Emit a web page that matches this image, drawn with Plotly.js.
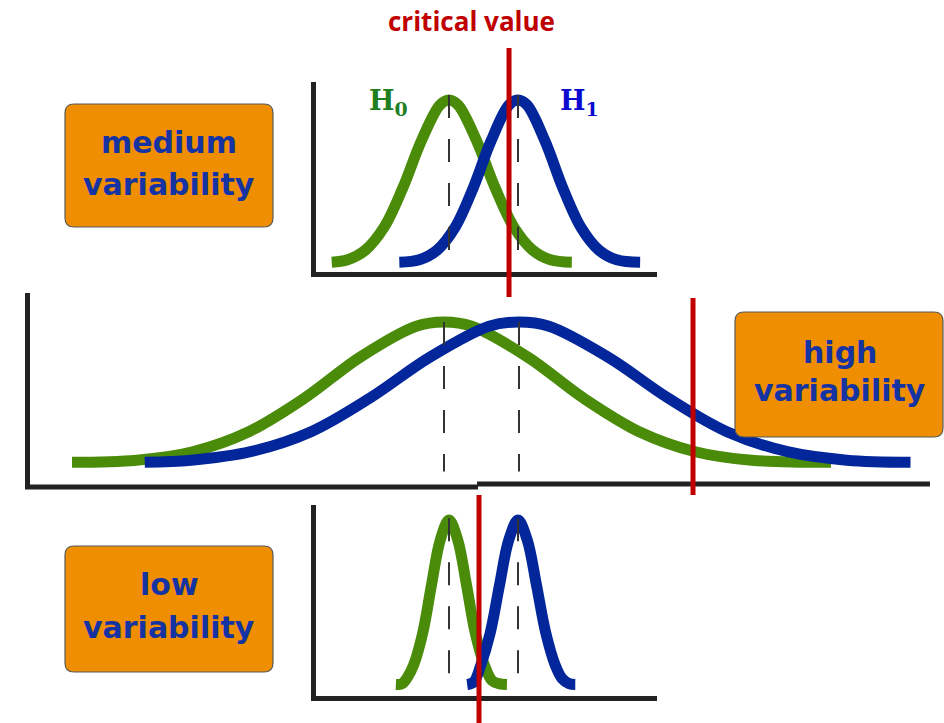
<!DOCTYPE html>
<html>
<head>
<meta charset="utf-8">
<script src="https://cdn.plot.ly/plotly-3.0.1.min.js"></script>
<style>
html,body{margin:0;padding:0;background:#ffffff;}
#chart{width:944px;height:723px;}
</style>
</head>
<body>
<div id="chart"></div>
<script>
// ---------- data (x in units of the H0-H1 mean difference, y = relative density) ----------
const panelNames = ['medium', 'high', 'low'];
const boxSubLabel = 'variability';
const hypothesisLabels = ['H<sub>0</sub>', 'H<sub>1</sub>'];
const criticalLabel = 'critical value';
const meansH = [0, 1];
const criticalValues = [0.87, 3.32, 0.435];

const medH0x = [-1.70, -1.47, -1.21, -0.94, -0.67, -0.40, -0.13, 0, 0.13, 0.40, 0.67, 0.94, 1.21, 1.47, 1.78];
const medH0y = [0.005, 0.02, 0.08, 0.22, 0.46, 0.75, 0.97, 1.00, 0.97, 0.75, 0.46, 0.22, 0.08, 0.02, 0.005];
const medH1x = [-0.72, -0.43, -0.17, 0.09, 0.35, 0.61, 0.87, 1.00, 1.13, 1.39, 1.65, 1.91, 2.17, 2.43, 2.77];
const medH1y = [0.005, 0.02, 0.08, 0.22, 0.46, 0.75, 0.97, 1.00, 0.97, 0.75, 0.46, 0.22, 0.08, 0.02, 0.005];

const highH0x = [-4.96, -4.10, -3.35, -2.61, -1.86, -1.12, -0.37, 0, 0.37, 1.12, 1.86, 2.61, 3.35, 4.10, 5.16];
const highH0y = [0.005, 0.02, 0.08, 0.22, 0.46, 0.75, 0.97, 1.00, 0.97, 0.75, 0.46, 0.22, 0.08, 0.02, 0.005];
const highH1x = [-3.99, -3.37, -2.58, -1.78, -0.99, -0.19, 0.60, 1.00, 1.40, 2.19, 2.99, 3.78, 4.58, 5.37, 6.22];
const highH1y = [0.005, 0.02, 0.08, 0.22, 0.46, 0.75, 0.97, 1.00, 0.97, 0.75, 0.46, 0.22, 0.08, 0.02, 0.005];

const lowH0x = [-0.77, -0.68, -0.60, -0.51, -0.38, -0.254, -0.127, 0, 0.127, 0.254, 0.38, 0.51, 0.62, 0.72, 0.84];
const lowH0y = [0.015, 0.02, 0.06, 0.135, 0.325, 0.61, 0.88, 1.00, 0.88, 0.61, 0.325, 0.135, 0.04, 0.02, 0.015];
const lowH1x = [0.263, 0.36, 0.464, 0.598, 0.732, 0.866, 1.00, 1.134, 1.268, 1.402, 1.536, 1.64, 1.74, 1.83];
const lowH1y = [0.015, 0.03, 0.135, 0.325, 0.61, 0.88, 1.00, 0.88, 0.61, 0.325, 0.135, 0.05, 0.02, 0.015];

// dashed mean markers: [top, bottom] relative height per panel
const meanLineTop = [1.03, 1.0, 1.01];
const meanLineBottom = [0.08, -0.06, 0.07];

// ---------- geometry / styling ----------
const W = 944, H = 723;
const GREEN = '#4a8b0a', BLUE = '#03269b', RED = '#c00000', AXIS = '#222222';
const ORANGE = '#ee8e00', BOXTEXT = '#1533a3';

// per panel pixel frame: origin px of x=0, px per x unit, px of y=0, px per y unit,
// axis-line positions and far edges
const frames = [
  {xo: 449, xs: 69, yo: 263, ys: 163, axY: 274, axX: 313, right: 657, top: 82},
  {xo: 444, xs: 75, yo: 463, ys: 141, axY: 487, axX: 27, right: 930, top: 293},
  {xo: 449, xs: 69, yo: 687, ys: 167, axY: 698, axX: 313, right: 657, top: 505}
];
const LW = 5; // axis line width
const px2x = p => p / W;
const py2y = p => 1 - p / H;

const layout = {
  width: W, height: H,
  margin: {l: 0, r: 0, t: 0, b: 0, pad: 0},
  paper_bgcolor: '#ffffff', plot_bgcolor: 'rgba(0,0,0,0)',
  showlegend: false,
  shapes: [], annotations: []
};

frames.forEach((f, i) => {
  const sfx = i === 0 ? '' : String(i + 1);
  const left = f.axX + LW / 2, bottom = f.axY - LW / 2;
  layout['xaxis' + sfx] = {
    domain: [px2x(left), px2x(f.right)],
    range: [(left - f.xo) / f.xs, (f.right - f.xo) / f.xs],
    anchor: 'y' + sfx,
    showline: i !== 1, linewidth: LW, linecolor: AXIS,
    showgrid: false, zeroline: false, showticklabels: false, ticks: '', fixedrange: true
  };
  layout['yaxis' + sfx] = {
    domain: [py2y(bottom), py2y(f.top)],
    range: [(f.yo - bottom) / f.ys, (f.yo - f.top) / f.ys],
    anchor: 'x' + sfx,
    showline: true, linewidth: LW, linecolor: AXIS,
    showgrid: false, zeroline: false, showticklabels: false, ticks: '', fixedrange: true
  };
});
// the wide panel's baseline is drawn in two slightly offset pieces, as in the original
layout.shapes.push({type: 'line', xref: 'paper', yref: 'paper',
  x0: px2x(25), x1: px2x(478), y0: py2y(487), y1: py2y(487), line: {color: AXIS, width: LW}});
layout.shapes.push({type: 'line', xref: 'paper', yref: 'paper',
  x0: px2x(477), x1: px2x(930), y0: py2y(484), y1: py2y(484), line: {color: AXIS, width: LW}});

const curveSets = [
  [[medH0x, medH0y], [medH1x, medH1y]],
  [[highH0x, highH0y], [highH1x, highH1y]],
  [[lowH0x, lowH0y], [lowH1x, lowH1y]]
];
const colors = [GREEN, BLUE];
const traces = [];
curveSets.forEach((set, i) => {
  const ax = i === 0 ? '' : String(i + 1);
  set.forEach((c, j) => {
    traces.push({
      type: 'scatter', mode: 'lines', x: c[0], y: c[1],
      xaxis: 'x' + ax, yaxis: 'y' + ax,
      line: {color: colors[j], width: 11, shape: 'spline', smoothing: 1},
      hoverinfo: 'skip'
    });
  });
});
curveSets.forEach((set, i) => {
  const ax = i === 0 ? '' : String(i + 1);
  meansH.forEach(m => {
    traces.push({
      type: 'scatter', mode: 'lines', x: [m, m], y: [meanLineTop[i], meanLineBottom[i]],
      xaxis: 'x' + ax, yaxis: 'y' + ax,
      line: {color: '#333333', width: 2, dash: '23px,21px'},
      hoverinfo: 'skip'
    });
  });
});

// critical value lines (x from data, vertical extent in page)
const critExtent = [[48, 297], [298, 495], [495, 723]];
criticalValues.forEach((cv, i) => {
  const ax = i === 0 ? '' : String(i + 1);
  layout.shapes.push({
    type: 'line', xref: 'x' + ax, yref: 'paper',
    x0: cv, x1: cv, y0: py2y(critExtent[i][1]), y1: py2y(critExtent[i][0]),
    line: {color: RED, width: 5}, layer: 'above'
  });
});

// orange label boxes (rounded)
function roundRect(x0, y0, x1, y1, r) {
  const X = p => px2x(p).toFixed(5), Y = p => py2y(p).toFixed(5);
  return 'M' + X(x0 + r) + ',' + Y(y0) +
    ' L' + X(x1 - r) + ',' + Y(y0) + ' Q' + X(x1) + ',' + Y(y0) + ' ' + X(x1) + ',' + Y(y0 + r) +
    ' L' + X(x1) + ',' + Y(y1 - r) + ' Q' + X(x1) + ',' + Y(y1) + ' ' + X(x1 - r) + ',' + Y(y1) +
    ' L' + X(x0 + r) + ',' + Y(y1) + ' Q' + X(x0) + ',' + Y(y1) + ' ' + X(x0) + ',' + Y(y1 - r) +
    ' L' + X(x0) + ',' + Y(y0 + r) + ' Q' + X(x0) + ',' + Y(y0) + ' ' + X(x0 + r) + ',' + Y(y0) + ' Z';
}
const boxes = [
  {x0: 65, y0: 104, x1: 273, y1: 227, cx: 169, l1: 143, l2: 184},
  {x0: 735, y0: 312, x1: 943, y1: 437, cx: 840, l1: 352, l2: 390},
  {x0: 65, y0: 546, x1: 273, y1: 672, cx: 169, l1: 584, l2: 627}
];
boxes.forEach((b, i) => {
  layout.shapes.push({
    type: 'path', xref: 'paper', yref: 'paper',
    path: roundRect(b.x0, b.y0, b.x1, b.y1, 9),
    fillcolor: ORANGE, line: {color: '#5a5a5a', width: 1.2}, layer: 'above'
  });
  const font = {family: 'DejaVu Sans, sans-serif', size: 30, weight: 700, color: BOXTEXT};
  layout.annotations.push({xref: 'paper', yref: 'paper', x: px2x(b.cx), y: py2y(b.l1),
    xanchor: 'center', yanchor: 'middle', text: '<b>' + panelNames[i] + '</b>', showarrow: false, font: font});
  layout.annotations.push({xref: 'paper', yref: 'paper', x: px2x(b.cx), y: py2y(b.l2),
    xanchor: 'center', yanchor: 'middle', text: '<b>' + boxSubLabel + '</b>', showarrow: false, font: font});
});

// titles / hypothesis labels
layout.annotations.push({xref: 'paper', yref: 'paper', x: px2x(471), y: py2y(21),
  xanchor: 'center', yanchor: 'middle', text: '<b>' + criticalLabel + '</b>', showarrow: false,
  font: {family: 'Open Sans, sans-serif', size: 26, color: RED}});
layout.annotations.push({xref: 'paper', yref: 'paper', x: px2x(388), y: py2y(103),
  xanchor: 'center', yanchor: 'middle', text: '<b>' + hypothesisLabels[0] + '</b>', showarrow: false,
  font: {family: 'DejaVu Serif, serif', size: 27, color: '#1f7f1f'}});
layout.annotations.push({xref: 'paper', yref: 'paper', x: px2x(579), y: py2y(103),
  xanchor: 'center', yanchor: 'middle', text: '<b>' + hypothesisLabels[1] + '</b>', showarrow: false,
  font: {family: 'DejaVu Serif, serif', size: 27, color: '#0b0bd0'}});

Plotly.newPlot('chart', traces, layout, {staticPlot: true, displayModeBar: false});
</script>
</body>
</html>
